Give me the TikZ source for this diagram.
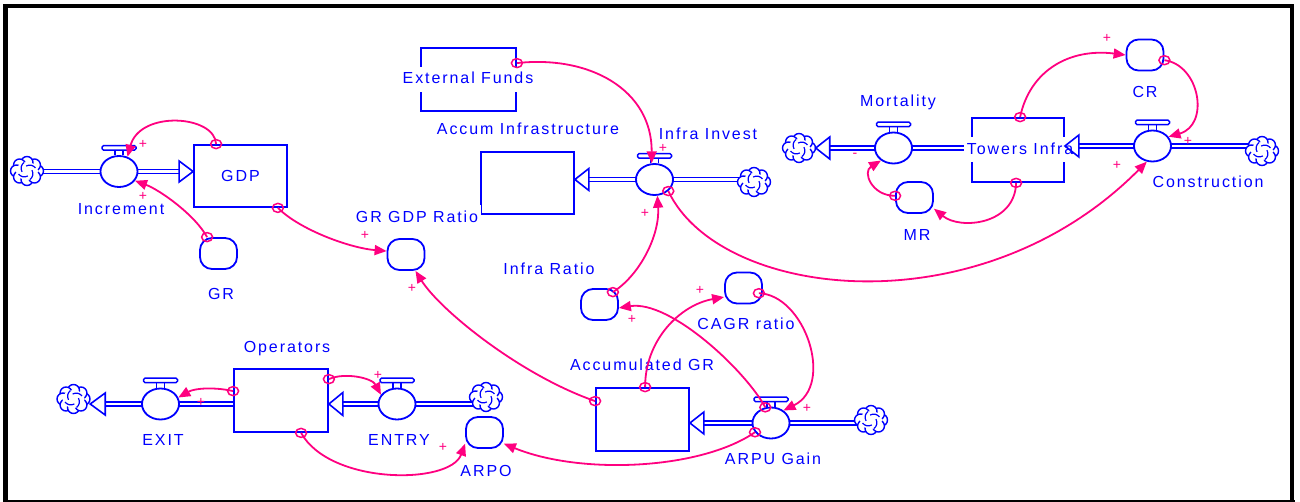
\documentclass[tikz,border=0pt]{standalone}
\usepackage{fontspec}
\setmainfont{Liberation Sans}[LetterSpace=12]
\usetikzlibrary{arrows.meta,shapes.geometric,calc}
\definecolor{vblue}{RGB}{0,0,255}
\definecolor{vpink}{RGB}{255,0,128}
\pgfdeclarelayer{pipelayer}
\pgfsetlayers{pipelayer,main}
\tikzset{
  vstock/.style={draw=vblue,line width=1.8pt,inner sep=0pt,text=vblue},
  vaux/.style={draw=vblue,line width=1.8pt,rounded corners=12pt,minimum width=37pt,minimum height=31pt,inner sep=0pt,fill=white},
  vvalve/.style={draw=vblue,line width=1.8pt,ellipse,minimum width=37pt,minimum height=31pt,inner sep=0pt,fill=white},
  vcloud/.style={draw=none,rectangle,minimum width=33pt,minimum height=29pt,inner sep=0pt},
  lbl/.style={text=vblue,inner sep=0pt,text height=12pt,text depth=3pt},
  lblw/.style={text=vblue,fill=white,inner xsep=3pt,inner ysep=5pt,text height=12pt,text depth=3pt},
  pipe/.style={draw=vblue,double=white,double distance=2.4pt,line width=1.4pt},
  ftip/.style={draw=vblue,line width=1.6pt,line join=miter},
  link/.style={draw=vpink,line width=1.8pt,-{Triangle[length=12pt,width=10pt]}},
  ring/.style={draw=vpink,line width=1.5pt,ellipse,minimum width=11pt,minimum height=9pt,inner sep=0pt},
  sgn/.style={text=vpink,font=\fontsize{14}{14}\selectfont,inner sep=0pt},
  vtop/.pic={
    \draw[vblue,line width=1.5pt] (-4,0) -- (-4,-5) (4,0) -- (4,-5);
    \draw[vblue,line width=1.5pt,fill=white,rounded corners=1.5pt] (-17,-5) rectangle (17,-9.5);
  },
  cloudpic/.pic={
    \foreach \a in {0,45,...,315}
      \draw[vblue,line width=1.4pt,fill=white] (\a:10.5pt and 8.5pt) circle[radius=6pt];
    \fill[white] (0,0) ellipse[x radius=11pt,y radius=9pt];
    \foreach \a in {20,110,200,290}
      \draw[vblue,line width=1.2pt] (\a:9pt) to[bend right=40] (\a+80:5pt);
  }
}
\begin{document}
\begin{tikzpicture}[x=1pt,y=-1pt,font=\fontsize{16}{19}\selectfont]
\useasboundingbox (0,0) rectangle (1300,502);
% frame
\draw[black,line width=4.5pt] (5.5,501) -- (5.5,6) -- (1292,6) -- (1292,501);
\draw[black,line width=2pt] (3,501) -- (1294.5,501);

% stocks
\node[vstock,minimum width=93pt,minimum height=62pt] (gdp) at (240.5,176) {GDP};
\node[vstock,minimum width=95pt,minimum height=63pt] (extf) at (468.5,79.5) {};
\node[vstock,minimum width=93pt,minimum height=62pt] (accinf) at (527.5,183) {};
\node[vstock,minimum width=92pt,minimum height=64pt] (towers) at (1018,150) {};
\node[vstock,minimum width=93pt,minimum height=63pt] (accgr) at (642.5,419.5) {};
\node[vstock,minimum width=94pt,minimum height=63pt] (ops) at (281,400.5) {};

% labels that blank out parts of boxes
\node[lblw] (lgrgdp) at (417,218) {GR GDP Ratio};
\node[lblw] (lextf) at (468,79.5) {External Funds};
\node[lblw] (ltowers) at (1020,150) {Towers Infra};

% valves
\node[vvalve] (incv) at (119,171.5) {}; \pic at (incv.north) {vtop};
\node[vvalve] (infv) at (654.5,179.5) {}; \pic at (infv.north) {vtop};
\node[vvalve] (arpuv) at (771,423) {}; \pic at (arpuv.north) {vtop};
\node[vvalve] (exitv) at (160.5,404) {}; \pic at (exitv.north) {vtop};
\node[vvalve] (entv) at (397,404) {}; \pic at (entv.north) {vtop};
\node[vvalve] (mortv) at (893.5,148) {}; \pic at (mortv.north) {vtop};
\node[vvalve] (consv) at (1152.5,146) {}; \pic at (consv.north) {vtop};

% clouds
\node[vcloud] (c1) at (27,171) {}; \pic at (c1) {cloudpic};
\node[vcloud] (c2) at (754,182) {}; \pic at (c2) {cloudpic};
\node[vcloud] (c3) at (871,420) {}; \pic at (c3) {cloudpic};
\node[vcloud] (c4) at (73.5,399) {}; \pic at (c4) {cloudpic};
\node[vcloud] (c5) at (486,397) {}; \pic at (c5) {cloudpic};
\node[vcloud] (c6) at (799,148) {}; \pic at (c6) {cloudpic};
\node[vcloud] (c7) at (1262,151) {}; \pic at (c7) {cloudpic};

% auxiliaries
\node[vaux] (gr) at (218.5,253.5) {};
\node[vaux] (grgdp) at (406,254.5) {};
\node[vaux] (infr) at (599.5,304.5) {};
\node[vaux] (cagr) at (743.5,288) {};
\node[vaux] (arpo) at (484.5,432.5) {};
\node[vaux] (cr) at (1145,55) {};
\node[vaux] (mr) at (914.5,197.5) {};

% pipes (below everything)
\begin{pgfonlayer}{pipelayer}
\fill[white] (0,0) rectangle (1300,502);
\draw[pipe] (c1.center |- incv) -- ($(incv -| gdp.west)+(-14,0)$);
\draw[pipe] (c2.center |- infv) -- ($(infv -| accinf.east)+(14,0)$);
\draw[pipe] (c3.center |- arpuv) -- ($(arpuv -| accgr.east)+(14,0)$);
\draw[pipe] (exitv -| ops.west) -- ($(exitv -| c4.east)+(15,0)$);
\draw[pipe] (c5.center |- entv) -- ($(entv -| ops.east)+(14,0)$);
\draw[pipe] (mortv -| towers.west) -- ($(mortv -| c6.east)+(14,0)$);
\draw[pipe] (c7.center |- consv) -- ($(consv -| towers.east)+(14,0)$);
\end{pgfonlayer}

% flow arrow heads
\draw[ftip] (incv -| gdp.west) -- ++(-14,-10.5) -- ++(0,21) -- cycle;
\draw[ftip] (infv -| accinf.east) -- ++(14,-11) -- ++(0,22) -- cycle;
\draw[ftip] (arpuv -| accgr.east) -- ++(14,-11) -- ++(0,22) -- cycle;
\draw[ftip] (exitv -| c4.east) -- ++(15,-11) -- ++(0,22) -- cycle;
\draw[ftip] (entv -| ops.east) -- ++(14,-11.5) -- ++(0,23) -- cycle;
\draw[ftip] (mortv -| c6.east) -- ++(14,-11) -- ++(0,22) -- cycle;
\draw[ftip] (consv -| towers.east) -- ++(14,-11) -- ++(0,22) -- cycle;

% labels
\node[lbl] (linc) at (121,210) {Increment};
\node[lbl] (lgr) at (221,295) {GR};
\node[lbl] (laccinf) at (528,130) {Accum Infrastructure};
\node[lbl] (linfv) at (708,135) {Infra Invest};
\node[lbl] (linfr) at (549,270) {Infra Ratio};
\node[lbl] (lcagr) at (746,325) {CAGR ratio};
\node[lbl] (laccgr) at (642,366) {Accumulated GR};
\node[lbl] (larpuv) at (773,460) {ARPU Gain};
\node[lbl] (larpo) at (486,472) {ARPO};
\node[lbl] (lops) at (287,348) {Operators};
\node[lbl] (lexit) at (163,441) {EXIT};
\node[lbl] (lent) at (399,441) {ENTRY};
\node[lbl] (lmort) at (898,102) {Mortality};
\node[lbl] (lcr) at (1145,93) {CR};
\node[lbl] (lcons) at (1208,183) {Construction};
\node[lbl] (lmr) at (917,236) {MR};

% links
\draw[link] ([xshift=23pt]gdp.north west) node[ring]{} .. controls (215,115) and (140,110) .. (incv.60);
\draw[link] ([xshift=8pt]gr.north west) node[ring]{} .. controls (195,215) and (160,190) .. (incv.-30);
\draw[link] ([xshift=-10pt]gdp.south east) node[ring]{} .. controls (300,230) and (350,248) .. (grgdp.170);
\draw[link] ([yshift=-14pt]accgr.north west) node[ring]{} .. controls (520,375) and (440,310) .. (grgdp.-60);
\draw[link] ([yshift=-16pt]extf.north east) node[ring]{} .. controls (590,55) and (652,90) .. (infv.100);
\draw[link] ([xshift=-6pt,yshift=-4pt]infr.north east) node[ring]{} .. controls (640,275) and (660,235) .. (infv.-80);
\draw[link] (infv.-40) node[ring]{} .. controls (720,300) and (980,330) .. (consv.-110);
\draw[link] ([xshift=50pt]accgr.north west) node[ring]{} .. controls (645,340) and (680,305) .. (cagr.205);
\draw[link] ([xshift=-4pt]cagr.-15) node[ring]{} .. controls (805,295) and (835,385) .. (arpuv.45);
\draw[link] (arpuv.110) node[ring]{} .. controls (745,370) and (670,300) .. (infr.-10);
\draw[link] (arpuv.-150) node[ring]{} .. controls (700,470) and (580,475) .. (arpo.-30);
\draw[link] ([xshift=68pt]ops.south west) node[ring]{} .. controls (330,485) and (450,485) .. (arpo.-150);
\draw[link] ([yshift=-23pt]ops.north west) node[ring]{} .. controls (215,387) and (195,388) .. (exitv.20);
\draw[link] ([yshift=-11pt]ops.north east) node[ring]{} .. controls (345,372) and (372,378) .. (entv.150);
\draw[link] ([xshift=49pt]towers.north west) node[ring]{} .. controls (1030,70) and (1070,48) .. (cr.west);
\draw[link] (cr.-15) node[ring]{} .. controls (1200,65) and (1210,125) .. (consv.30);
\draw[link] ([xshift=45pt]towers.south west) node[ring]{} .. controls (1015,225) and (960,230) .. (mr.-30);
\draw[link] (mr.175) node[ring]{} .. controls (872,196) and (862,172) .. (mortv.-135);

% polarities
\node[sgn] (s1) at (143,144) {+};
\node[sgn] (s2) at (143,196) {+};
\node[sgn] (s3) at (365,235) {+};
\node[sgn] (s4) at (412,288) {+};
\node[sgn] (s5) at (663,148) {+};
\node[sgn] (s6) at (645,213) {+};
\node[sgn] (s7) at (1117,165) {+};
\node[sgn] (s8) at (632,319) {+};
\node[sgn] (s9) at (700,290) {+};
\node[sgn] (s10) at (807,408) {+};
\node[sgn] (s11) at (201,402) {+};
\node[sgn] (s12) at (378,375) {+};
\node[sgn] (s13) at (443,447) {+};
\node[sgn] (s14) at (1107,38) {+};
\node[sgn] (s15) at (1188,141) {+};
\node[sgn] (s16) at (855,155) {-};
\end{tikzpicture}
\end{document}
